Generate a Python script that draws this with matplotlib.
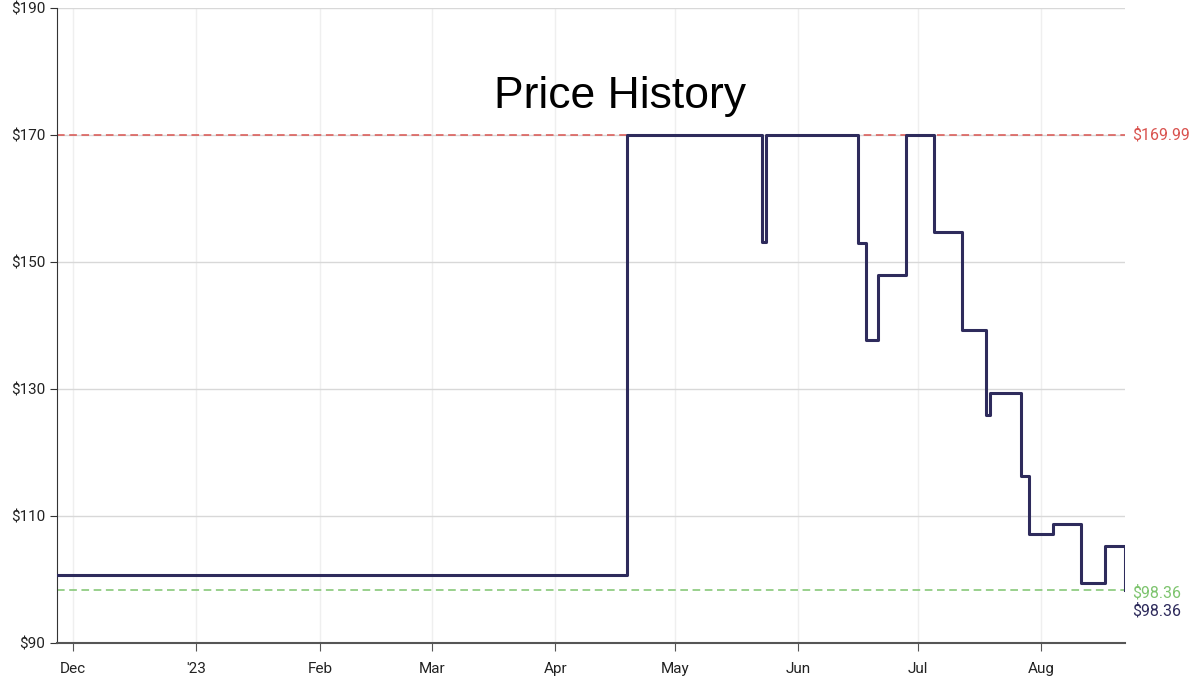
import matplotlib
matplotlib.use("Agg")
import matplotlib.pyplot as plt
import numpy as np
from datetime import datetime

dates = ["2022-11-27", "2023-04-19", "2023-05-23", "2023-05-24", "2023-06-16", "2023-06-18",
         "2023-06-21", "2023-06-28", "2023-07-05", "2023-07-12", "2023-07-18", "2023-07-19",
         "2023-07-27", "2023-07-29", "2023-08-04", "2023-08-11", "2023-08-17", "2023-08-22"]
prices = [100.71, 169.99, 153.15, 169.99, 153.0, 137.7,
          147.95, 169.99, 154.7, 139.3, 125.9, 129.4,
          116.3, 107.2, 108.7, 99.4, 105.3, 98.36]
max_price = 169.99
min_price = 98.36
current_price = 98.36
month_ticks = ["2022-12-01", "2023-01-01", "2023-02-01", "2023-03-01", "2023-04-01",
               "2023-05-01", "2023-06-01", "2023-07-01", "2023-08-01"]
month_labels = ["Dec", "'23", "Feb", "Mar", "Apr", "May", "Jun", "Jul", "Aug"]
yticks = [90, 110, 130, 150, 170, 190]

plt.rcParams['font.family'] = ['Roboto', 'DejaVu Sans']
fig = plt.figure(figsize=(12, 6.81), dpi=100)
ax = fig.add_axes([57/1200, 1-643/681, (1125-57)/1200, (643-8)/681])

d = [datetime.fromisoformat(s) for s in dates]
ax.step(d, prices, where='post', color='#2e2b5c', lw=2.2, zorder=3)
ax.axhline(max_price, color='#d9534f', ls=(0, (5, 3)), lw=1.1, zorder=2)
ax.axhline(min_price, color='#7dc46e', ls=(0, (5, 3)), lw=1.1, zorder=2)

ax.set_xlim(d[0], d[-1])
ax.set_ylim(90, 190)
ax.set_yticks(yticks)
ax.set_yticklabels([f"${v}" for v in yticks], fontsize=11, color='#222')
mt = [datetime.fromisoformat(s) for s in month_ticks]
ax.set_xticks(mt)
ax.set_xticklabels(month_labels, fontsize=11, color='#222')
ax.grid(axis='y', color='#d8d8d8', lw=1)
ax.grid(axis='x', color='#efefef', lw=1)
ax.set_axisbelow(True)
for s in ['top', 'right']:
    ax.spines[s].set_visible(False)
ax.spines['left'].set_color('#333')
ax.spines['bottom'].set_color('#555')
ax.spines['bottom'].set_linewidth(1.5)
ax.tick_params(axis='x', length=6, color='#555', pad=8)
ax.tick_params(axis='y', length=5, color='#333')

ax.text(1.007, max_price, f"${max_price}", transform=ax.get_yaxis_transform(),
        color='#d9534f', fontsize=11.5, va='center', ha='left')
ax.text(1.007, min_price - 0.4, f"${min_price}", transform=ax.get_yaxis_transform(),
        color='#7dc46e', fontsize=11.5, va='center', ha='left')
ax.text(1.007, current_price - 3.3, f"${current_price}", transform=ax.get_yaxis_transform(),
        color='#2e2b5c', fontsize=11.5, va='center', ha='left')
ax.text(0.527, 176.0, "Price History", transform=ax.get_yaxis_transform(),
        fontsize=32, family='Liberation Sans', ha='center', va='center', color='black')

fig.savefig("out.png", dpi=100)
